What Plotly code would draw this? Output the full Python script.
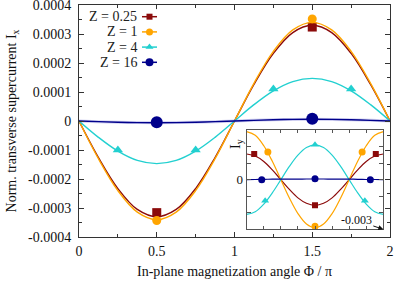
import plotly.graph_objects as go

# ---------------- data ----------------
phi = [0, 0.125, 0.25, 0.375, 0.5, 0.625, 0.75, 0.875, 1,
       1.125, 1.25, 1.375, 1.5, 1.625, 1.75, 1.875, 2]

series_names = ["Z = 0.25", "Z = 1", "Z = 4", "Z = 16"]
series_colors = ["#8b0a0a", "#ffa500", "#22d0d0", "#00008b"]
series_symbols = ["square", "circle", "triangle-up", "circle"]

# main panel: transverse supercurrent Ix
ix_z025 = [0, -0.000126, -0.000233, -0.000305, -0.00033, -0.000305, -0.000233, -0.000126, 0,
           0.000126, 0.000233, 0.000305, 0.00033, 0.000305, 0.000233, 0.000126, 0]
ix_z1 = [0, -0.00013, -0.00024, -0.000314, -0.00034, -0.000314, -0.00024, -0.00013, 0,
         0.00013, 0.00024, 0.000314, 0.00034, 0.000314, 0.00024, 0.00013, 0]
ix_z4 = [0, -0.0000563, -0.000104, -0.000136, -0.000147, -0.000136, -0.000104, -0.0000563, 0,
         0.0000563, 0.000104, 0.000136, 0.000147, 0.000136, 0.000104, 0.0000563, 0]
ix_z16 = [0, -0.0000023, -0.0000042, -0.0000055, -0.000006, -0.0000055, -0.0000042, -0.0000023, 0,
          0.0000023, 0.0000042, 0.0000055, 0.000006, 0.0000055, 0.0000042, 0.0000023, 0]

pts_x_z025 = [0.5, 1.5]
pts_y_z025 = [-0.000316, 0.000324]
pts_x_z1 = [0.5, 1.5]
pts_y_z1 = [-0.000343, 0.000352]
pts_x_z4 = [0.25, 0.75, 1.25, 1.75]
pts_y_z4 = [-0.0001, -0.0001, 0.00011, 0.00011]
pts_x_z16 = [0.5, 1.5]
pts_y_z16 = [-0.000004, 0.000008]

# inset: Iy
iy_z025 = [0.00155, 0.00143, 0.0011, 0.00059, 0, -0.00059, -0.0011, -0.00143, -0.00155,
           -0.00143, -0.0011, -0.00059, 0, 0.00059, 0.0011, 0.00143, 0.00155]
iy_z1 = [0.0029, 0.00268, 0.00205, 0.00111, 0, -0.00111, -0.00205, -0.00268, -0.0029,
         -0.00268, -0.00205, -0.00111, 0, 0.00111, 0.00205, 0.00268, 0.0029]
iy_z4 = [-0.0021, -0.00194, -0.00148, -0.0008, 0, 0.0008, 0.00148, 0.00194, 0.0021,
         0.00194, 0.00148, 0.0008, 0, -0.0008, -0.00148, -0.00194, -0.0021]
iy_z16 = [0, 0.00001, 0.00002, 0.00003, 0.00003, 0.00003, 0.00003, 0.00004, 0.00004,
          0.00004, 0.00003, 0.00003, 0.00003, 0.00002, 0.00001, 0.00001, 0]

ipts_x_z025 = [0.11, 1.0, 1.89]
ipts_y_z025 = [0.00155, -0.00155, 0.00155]
ipts_x_z1 = [0.31, 1.0, 1.69]
ipts_y_z1 = [0.00167, -0.00282, 0.00167]
ipts_x_z4 = [0.27, 1.0, 1.73]
ipts_y_z4 = [-0.00127, 0.00211, -0.00127]
ipts_x_z16 = [0.22, 1.0, 1.81]
ipts_y_z16 = [0, 0.00005, 0]

x_tickvals = [0, 0.5, 1, 1.5, 2]
x_ticktext = ["0", "0.5", "1", "1.5", "2"]
y_tickvals = [0.0004, 0.0003, 0.0002, 0.0001, 0, -0.0001, -0.0002, -0.0003, -0.0004]
y_ticktext = ["0.0004", "0.0003", "0.0002", "0.0001", "0", "-0.0001", "-0.0002", "-0.0003", "-0.0004"]
inset_y_tickvals = [-0.003, -0.002, -0.001, 0, 0.001, 0.002, 0.003]
inset_y_ticktext = ["", "", "", "0", "", "", ""]

# ---------------- figure ----------------
FONT = "Liberation Serif, Times New Roman, serif"
W, H = 395, 282
ML, MR, MT, MB = 79, 5, 5, 45
PW, PH = W - ML - MR, H - MT - MB


def px_x(p):
    return (p - ML) / PW


def px_y(p):
    return (H - MB - p) / PH


fig = go.Figure()

main_lines = [ix_z025, ix_z1, ix_z4, ix_z16]
main_px = [pts_x_z025, pts_x_z1, pts_x_z4, pts_x_z16]
main_py = [pts_y_z025, pts_y_z1, pts_y_z4, pts_y_z16]
main_sizes = [9, 9, 9, 12]

inset_lines = [iy_z025, iy_z1, iy_z4, iy_z16]
inset_px = [ipts_x_z025, ipts_x_z1, ipts_x_z4, ipts_x_z16]
inset_py = [ipts_y_z025, ipts_y_z1, ipts_y_z4, ipts_y_z16]
inset_sizes = [6, 7, 7, 7]

for i in range(4):
    if i == 3:
        # light band under the Z = 16 curve
        fig.add_trace(go.Scatter(x=phi, y=main_lines[i], mode="lines", line_shape="spline",
                                 line=dict(color="rgba(100,100,210,0.3)", width=3),
                                 showlegend=False, hoverinfo="skip"))
    fig.add_trace(go.Scatter(x=phi, y=main_lines[i], mode="lines", line_shape="spline",
                             line=dict(color=series_colors[i], width=1.4),
                             name=series_names[i], showlegend=False))
    fig.add_trace(go.Scatter(x=main_px[i], y=main_py[i], mode="markers",
                             marker=dict(color=series_colors[i], symbol=series_symbols[i],
                                         size=main_sizes[i]),
                             name=series_names[i], showlegend=False))

for i in range(4):
    fig.add_trace(go.Scatter(x=phi, y=inset_lines[i], mode="lines", line_shape="spline",
                             line=dict(color=series_colors[i], width=1.2),
                             xaxis="x2", yaxis="y2", showlegend=False, name=series_names[i]))
    fig.add_trace(go.Scatter(x=inset_px[i], y=inset_py[i], mode="markers",
                             marker=dict(color=series_colors[i], symbol=series_symbols[i],
                                         size=inset_sizes[i]),
                             xaxis="x2", yaxis="y2", showlegend=False, name=series_names[i]))

# manual key (symbol to the right of the text, as in the original)
key_sizes = [6, 7, 7, 8]
KEY_TOP, KEY_STEP = 16.7, 15.2
for i, nm in enumerate(series_names):
    fig.add_trace(go.Scatter(x=[0, 1], y=[i, i], mode="lines",
                             line=dict(color=series_colors[i], width=1.5),
                             xaxis="x3", yaxis="y3", showlegend=False, hoverinfo="skip"))
    fig.add_trace(go.Scatter(x=[0.5], y=[i], mode="markers",
                             marker=dict(color=series_colors[i], symbol=series_symbols[i],
                                         size=key_sizes[i]),
                             xaxis="x3", yaxis="y3", showlegend=False, hoverinfo="skip"))
    fig.add_annotation(x=px_x(138.5), y=px_y(KEY_TOP + KEY_STEP * i), xref="paper", yref="paper",
                       text=nm, showarrow=False, xanchor="right", yanchor="middle",
                       font=dict(family=FONT, size=14, color="#222"))

axis_common = dict(showline=True, linecolor="#333", linewidth=1, mirror="ticks",
                   ticks="inside", showgrid=False, zeroline=False, automargin=False,
                   ticklabeloverflow="allow")

fig.update_layout(
    width=W, height=H,
    margin=dict(l=ML, r=MR, t=MT, b=MB, autoexpand=False),
    paper_bgcolor="white", plot_bgcolor="white",
    font=dict(family=FONT, size=14, color="#111"),
    showlegend=False,
    xaxis=dict(range=[0, 2], domain=[0, 1], tickvals=x_tickvals, ticktext=x_ticktext,
               ticklen=5, tickcolor="#333",
               minor=dict(dtick=0.25, ticks="inside", ticklen=3, tickcolor="#333"),
               title=dict(text="In-plane magnetization angle Φ / π", standoff=8,
                          font=dict(family=FONT, size=14)),
               tickfont=dict(family=FONT, size=14), ticklabelstandoff=1, **axis_common),
    yaxis=dict(range=[-0.0004, 0.0004], domain=[0, 1], tickvals=y_tickvals, ticktext=y_ticktext,
               ticklen=5, tickcolor="#333",
               minor=dict(dtick=0.00005, ticks="inside", ticklen=3, tickcolor="#333"),
               title=dict(text="Norm. transverse supercurrent I<sub>x</sub>", standoff=8,
                          font=dict(family=FONT, size=14)),
               tickfont=dict(family=FONT, size=14), ticklabelstandoff=4, **axis_common),
    xaxis2=dict(range=[0, 2], domain=[px_x(246.7), px_x(383.3)], anchor="y2",
                dtick=0.25, ticklen=3, showticklabels=False, tickcolor="#555",
                showline=True, linecolor="#555", linewidth=1, mirror="ticks",
                ticks="inside", showgrid=False, zeroline=False, automargin=False),
    yaxis2=dict(range=[-0.003, 0.003], domain=[px_y(229.3), px_y(130)], anchor="x2",
                tickvals=inset_y_tickvals, ticktext=inset_y_ticktext, ticklen=4,
                tickcolor="#555", tickfont=dict(family=FONT, size=13),
                showline=True, linecolor="#555", linewidth=1, mirror="ticks",
                ticks="inside", showgrid=False, zeroline=False, automargin=False),
    xaxis3=dict(range=[0, 1], domain=[px_x(142), px_x(157)], anchor="y3",
                visible=False, fixedrange=True),
    yaxis3=dict(range=[3.5, -0.5], domain=[px_y(KEY_TOP + KEY_STEP * 3.5), px_y(KEY_TOP - KEY_STEP * 0.5)],
                anchor="x3", visible=False, fixedrange=True),
)

fig.add_annotation(x=px_x(236), y=px_y(144), xref="paper", yref="paper",
                   text="I<sub>y</sub>", textangle=-90, showarrow=False,
                   font=dict(family=FONT, size=14, color="#111"))
fig.add_annotation(x=2, y=-0.003, xref="x2", yref="y2", text="-0.003",
                   showarrow=True, arrowhead=2, arrowsize=1, arrowwidth=1, arrowcolor="#111",
                   ax=-27, ay=-9, font=dict(family=FONT, size=12, color="#111"))

fig.write_html("out.html", config={"displayModeBar": False},
               post_script="document.body.style.margin='0px';document.body.style.overflow='hidden';")
